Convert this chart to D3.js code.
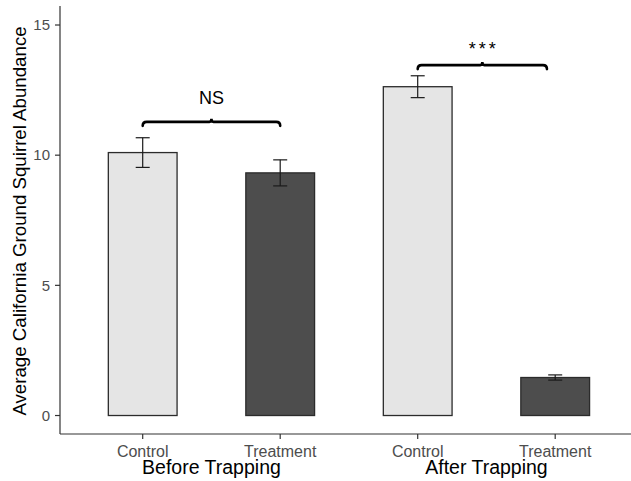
<!DOCTYPE html>
<html>
<head>
<meta charset="utf-8">
<script src="https://cdn.jsdelivr.net/npm/d3@7"></script>
<style>
  html, body { margin: 0; padding: 0; background: #fff; }
  svg { display: block; font-family: "Liberation Sans", Arial, sans-serif; }
</style>
</head>
<body>
<svg id="chart" width="631" height="481"></svg>
<script>
// Squirrel abundance by treatment, before and after trapping
const categories = ["Control", "Treatment", "Control", "Treatment"];
const periods = ["Before Trapping", "After Trapping"];
const means = [10.1, 9.32, 12.63, 1.46];
const errors = [0.57, 0.5, 0.42, 0.1];
const fills = ["#e5e5e5", "#4d4d4d", "#e5e5e5", "#4d4d4d"];
const yTicks = [0, 5, 10, 15];
// significance brackets: span in category units, height in data units
const comparisons = [
  { from: 0, to: 1, y: 11.28, label: "NS" },
  { from: 2, to: 2.94, y: 13.46, label: "***" }
];

(function draw() {
  const svg = d3.select("#chart");
  const pLeft = 60, pRight = 631, pTop = 6, pBottom = 434;

  const x = d3.scaleLinear().domain([0, 3]).range([142.7, 555.2]);
  const y = d3.scaleLinear().domain([-0.71, 15.73]).range([pBottom, pTop]);
  const barW = (x(1) - x(0)) * 0.5;

  // bars
  svg.selectAll("rect.bar").data(means).join("rect")
    .attr("class", "bar")
    .attr("x", (d, i) => x(i) - barW / 2)
    .attr("y", d => y(d))
    .attr("width", barW)
    .attr("height", d => y(0) - y(d))
    .attr("fill", (d, i) => fills[i])
    .attr("stroke", "#2b2b2b")
    .attr("stroke-width", 1.3);

  // error bars
  const capW = 14;
  const eb = svg.selectAll("g.err").data(means).join("g").attr("class", "err")
    .attr("stroke", "#1a1a1a").attr("stroke-width", 1.2);
  eb.append("line")
    .attr("x1", (d, i) => x(i)).attr("x2", (d, i) => x(i))
    .attr("y1", (d, i) => y(d + errors[i])).attr("y2", (d, i) => y(d - errors[i]));
  eb.append("line")
    .attr("x1", (d, i) => x(i) - capW / 2).attr("x2", (d, i) => x(i) + capW / 2)
    .attr("y1", (d, i) => y(d + errors[i])).attr("y2", (d, i) => y(d + errors[i]));
  eb.append("line")
    .attr("x1", (d, i) => x(i) - capW / 2).attr("x2", (d, i) => x(i) + capW / 2)
    .attr("y1", (d, i) => y(d - errors[i])).attr("y2", (d, i) => y(d - errors[i]));

  // significance brackets
  comparisons.forEach(c => {
    const x1 = x(c.from), x2 = x(c.to), yy = y(c.y), xm = (x1 + x2) / 2;
    svg.append("path")
      .attr("d", `M${x1},${yy + 4} Q${x1},${yy} ${x1 + 4},${yy} L${xm - 2},${yy} Q${xm},${yy} ${xm},${yy - 3} Q${xm},${yy} ${xm + 2},${yy} L${x2 - 4},${yy} Q${x2},${yy} ${x2},${yy + 4}`)
      .attr("fill", "none").attr("stroke", "#000").attr("stroke-width", 2.6)
      .attr("stroke-linecap", "round");
    const stars = /^\*+$/.test(c.label);
    svg.append("text")
      .attr("x", xm + (stars ? 1.5 : 0)).attr("y", yy - (stars ? 10.5 : 18))
      .attr("text-anchor", "middle")
      .attr("font-size", 18).attr("fill", "#000")
      .attr("letter-spacing", stars ? 3 : 0)
      .text(c.label);
  });

  // y axis
  svg.append("line").attr("x1", pLeft).attr("x2", pLeft).attr("y1", pTop).attr("y2", pBottom)
    .attr("stroke", "#333").attr("stroke-width", 1.2);
  const yt = svg.selectAll("g.ytick").data(yTicks).join("g").attr("class", "ytick");
  yt.append("line").attr("x1", pLeft - 5).attr("x2", pLeft).attr("y1", d => y(d)).attr("y2", d => y(d))
    .attr("stroke", "#333").attr("stroke-width", 1.2);
  yt.append("text").attr("x", pLeft - 10).attr("y", d => y(d)).attr("dy", "0.35em")
    .attr("text-anchor", "end").attr("font-size", 15).attr("fill", "#4d4d4d")
    .text(d => d);

  // x axis
  svg.append("line").attr("x1", pLeft).attr("x2", pRight).attr("y1", pBottom).attr("y2", pBottom)
    .attr("stroke", "#333").attr("stroke-width", 1.2);
  const xt = svg.selectAll("g.xtick").data(categories).join("g").attr("class", "xtick");
  xt.append("line").attr("x1", (d, i) => x(i)).attr("x2", (d, i) => x(i))
    .attr("y1", pBottom).attr("y2", pBottom + 5)
    .attr("stroke", "#333").attr("stroke-width", 1.2);
  xt.append("text").attr("x", (d, i) => x(i)).attr("y", 457.3)
    .attr("text-anchor", "middle").attr("font-size", 16).attr("fill", "#4d4d4d")
    .text(d => d);

  // period labels
  svg.selectAll("text.period").data(periods).join("text")
    .attr("class", "period")
    .attr("x", (d, i) => (x(2 * i) + x(2 * i + 1)) / 2)
    .attr("y", 474.3)
    .attr("text-anchor", "middle").attr("font-size", 19.5).attr("fill", "#000")
    .text(d => d);

  // y axis title
  svg.append("text")
    .attr("transform", `translate(25.5, 221) rotate(-90)`)
    .attr("text-anchor", "middle").attr("font-size", 18.7).attr("fill", "#000")
    .text("Average California Ground Squirrel Abundance");
})();
</script>
</body>
</html>
